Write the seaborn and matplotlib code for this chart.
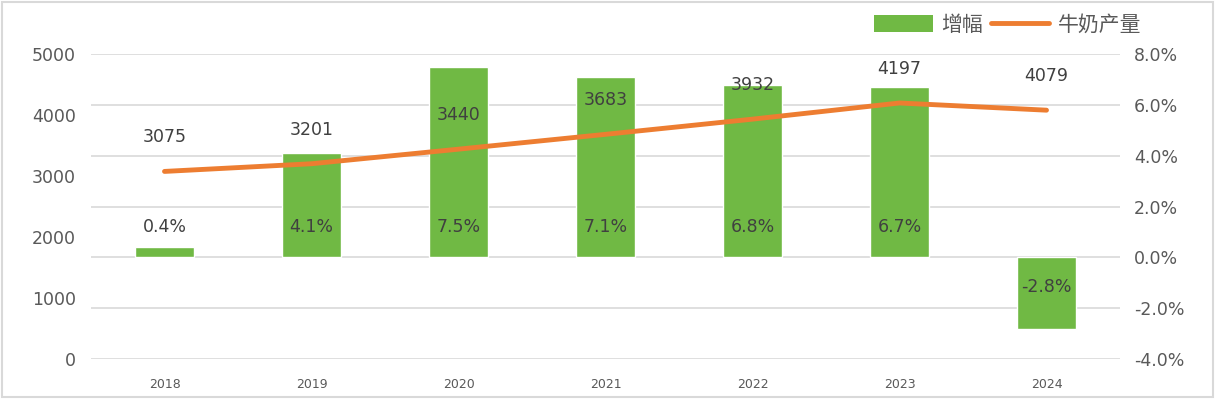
import matplotlib
matplotlib.use("Agg")
import matplotlib.pyplot as plt
import seaborn as sns
import pandas as pd
from matplotlib.patches import Patch, Rectangle
from matplotlib.lines import Line2D

years = ["2018", "2019", "2020", "2021", "2022", "2023", "2024"]
production = [3075, 3201, 3440, 3683, 3932, 4197, 4079]
growth = [0.4, 4.1, 7.5, 7.1, 6.8, 6.7, -2.8]
growth_labels = ["0.4%", "4.1%", "7.5%", "7.1%", "6.8%", "6.7%", "-2.8%"]
left_ticks = [0, 1000, 2000, 3000, 4000, 5000]
right_ticks = [-4, -2, 0, 2, 4, 6, 8]

sns.set_theme(style="white")
plt.rcParams["font.family"] = ["DejaVu Sans", "Noto Sans CJK SC"]

GREEN = "#70B944"
ORANGE = "#ED7D31"
TXT = "#404040"
TICK = "#595959"

df = pd.DataFrame({"year": years, "production": production, "growth": growth})

fig = plt.figure(figsize=(12.15, 3.99), dpi=100)
ax2 = fig.add_axes([91/1215, 40/399, (1120-91)/1215, (359-54)/399])
ax1 = ax2.twinx()
ax1.set_zorder(ax2.get_zorder() + 1)
ax1.patch.set_visible(False)

# bars on right axis
sns.barplot(data=df, x="year", y="growth", ax=ax2, color=GREEN, width=0.4,
            saturation=1, zorder=2)
ax2.set_ylim(-4, 8)
ax2.set_yticks(right_ticks)
ax2.set_yticklabels([f"{t:.1f}%" for t in right_ticks])
ax2.yaxis.tick_right()
ax2.yaxis.set_label_position("right")
ax2.grid(axis="y", color="#D9D9D9", linewidth=1.2, zorder=0)
ax2.set_axisbelow(True)
for i, (g, lab) in enumerate(zip(growth, growth_labels)):
    off = 30 if g >= 0 else -30
    ax2.annotate(lab, (i, 0), xytext=(0, off), textcoords="offset pixels",
                 ha="center", va="center", fontsize=12.5, color=TXT, zorder=5)

# line on left axis
sns.lineplot(data=df, x="year", y="production", ax=ax1, color=ORANGE,
             linewidth=3.5, sort=False, solid_capstyle="round")
ax1.set_ylim(0, 5000)
ax1.set_yticks(left_ticks)
ax1.set_yticklabels([str(t) for t in left_ticks])
ax1.yaxis.tick_left()
for i, p in enumerate(production):
    ax1.annotate(str(p), (i, p), xytext=(0, 34), textcoords="offset pixels",
                 ha="center", va="center", fontsize=12.5, color=TXT)

for ax in (ax1, ax2):
    ax.set_xlim(-0.5, 6.5)
    ax.set_xlabel("")
    ax.set_ylabel("")
    for s in ax.spines.values():
        s.set_visible(False)
    ax.tick_params(length=0)

ax1.tick_params(axis="y", labelsize=12.5, labelcolor=TICK, pad=11)
ax2.tick_params(axis="y", labelsize=12.5, labelcolor=TICK, pad=10)
ax2.tick_params(axis="x", labelsize=9, labelcolor=TICK, pad=14)

handles = [Patch(facecolor=GREEN, edgecolor="none"),
           Line2D([0], [0], color=ORANGE, linewidth=3.5, solid_capstyle="round")]
leg = fig.legend(handles, ["增幅", "牛奶产量"], loc="center right",
                 bbox_to_anchor=(1160/1215, 1 - 25/399), ncol=2, frameon=False,
                 fontsize=15, handlelength=2.8, handleheight=0.9,
                 columnspacing=0.4, handletextpad=0.4)
for t in leg.get_texts():
    t.set_color(TICK)
    t.set_family(["Noto Sans CJK SC", "DejaVu Sans"])

fig.patches.append(Rectangle((0.002, 0.004), 0.996, 0.992, transform=fig.transFigure,
                             fill=False, edgecolor="#D9D9D9", linewidth=1.5))

fig.savefig("out.png", dpi=100, facecolor="white")
